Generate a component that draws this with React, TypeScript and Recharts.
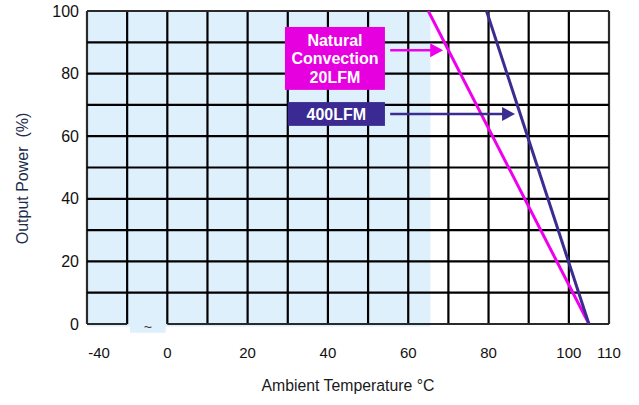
import React from 'react';
import {
  LineChart,
  Line,
  XAxis,
  YAxis,
  ReferenceArea,
  ReferenceLine,
  ReferenceDot,
} from 'recharts';

// ---- data ----
const xTickValues = [-17, 0, 20, 40, 60, 80, 100, 110];
const xTickLabels = ['-40', '0', '20', '40', '60', '80', '100', '110'];
const yTicks = [0, 20, 40, 60, 80, 100];
const gridX = [-20, -10, 0, 10, 20, 30, 40, 50, 60, 70, 80, 90, 100, 110];
const gridY = [10, 20, 30, 40, 50, 60, 70, 80, 90, 100];
const bottomSegments = [
  [-20, -10],
  [0, 110],
];
const naturalConvection = [
  { temp: 65, power: 100 },
  { temp: 105, power: 0 },
];
const lfm400 = [
  { temp: 79.5, power: 100 },
  { temp: 105, power: 0 },
];
const shadedRange = [-20, 65.5];
const breakRange = [-9.3, -0.4];

// annotation boxes / arrows (data coordinates)
const ncBox = { x1: 29.3, x2: 54.2, y1: 74.8, y2: 94.9 };
const ncLines = ['Natural', 'Convection', '20LFM'];
const lfmBox = { x1: 30, x2: 54.2, y1: 63.3, y2: 70.9 };
const lfmLines = ['400LFM'];
const ncArrow = { x1: 55.5, x2: 68.7, y: 87.5 };
const lfmArrow = { x1: 55.5, x2: 86.6, y: 67.1 };

const MAGENTA = '#ee00ee';
const MAGENTA_BOX = '#e600e0';
const BLUE = '#3a2d8f';
const BLUE_BOX = '#3a2a92';
const SHADE = '#dff0fd';
const FONT = '"Liberation Sans", Arial, Helvetica, sans-serif';

const boxShape = (lines: string[], color: string) => (props: any) => {
  const { x1, y1, x2, y2 } = props;
  const x = Math.min(x1, x2);
  const y = Math.min(y1, y2);
  const w = Math.abs(x2 - x1);
  const h = Math.abs(y2 - y1);
  const cx = x + w / 2;
  const cy = y + h / 2;
  const lh = 18.5;
  const startY = cy - ((lines.length - 1) * lh) / 2;
  return (
    <g>
      <rect x={x} y={y} width={w} height={h} fill={color} />
      <text
        textAnchor="middle"
        fontFamily={FONT}
        fontWeight="bold"
        fontSize={16}
        fill="#ffffff"
      >
        {lines.map((l, i) => (
          <tspan key={i} x={cx} y={startY + i * lh} dy="0.36em">
            {l}
          </tspan>
        ))}
      </text>
    </g>
  );
};

const arrowShape = (color: string) => (props: any) => {
  const { x1, y1, x2, y2 } = props;
  const head = 13;
  const half = 7;
  return (
    <g>
      <line x1={x1} y1={y1} x2={x2 - head + 1} y2={y2} stroke={color} strokeWidth={2.5} />
      <polygon
        points={`${x2},${y2} ${x2 - head},${y2 - half} ${x2 - head},${y2 + half}`}
        fill={color}
      />
    </g>
  );
};

export default function App() {
  return (
    <div style={{ position: 'absolute', left: 0, top: 0, background: '#fff' }}>
      <LineChart
        width={639}
        height={405}
        margin={{ top: 11, right: 30, bottom: 0, left: 0 }}
      >
        <XAxis
          type="number"
          dataKey="temp"
          domain={[-20, 110]}
          ticks={xTickValues}
          interval={0}
          allowDataOverflow
          tickFormatter={(v: number) => xTickLabels[xTickValues.indexOf(v)] ?? ''}
          tickLine={false}
          axisLine={false}
          tickSize={0}
          tickMargin={23}
          height={81}
          tick={{ fontFamily: FONT, fontSize: 15, fill: '#111' }}
          label={{
            value: 'Ambient Temperature °C',
            position: 'insideBottom',
            offset: 14,
            fontFamily: FONT,
            fontSize: 15.8,
            fill: '#1a1a1a',
          }}
        />
        <YAxis
          type="number"
          domain={[0, 100]}
          ticks={yTicks}
          interval={0}
          allowDataOverflow
          tickLine={false}
          axisLine={false}
          tickSize={0}
          tickMargin={8}
          width={87}
          tick={{ fontFamily: FONT, fontSize: 16, fill: '#111' }}
          label={{
            content: (p: any) => {
              const vb = p.viewBox || {};
              const x = vb.x + 22;
              const y = vb.y + vb.height / 2 + 11;
              return (
                <text
                  x={x}
                  y={y}
                  transform={`rotate(-90, ${x}, ${y})`}
                  textAnchor="middle"
                  dominantBaseline="central"
                  fontFamily={FONT}
                  fontSize={16}
                  fill="#1d2c4c"
                >
                  {'Output Power \u00a0(%)'}
                </text>
              );
            },
          }}
        />

        <ReferenceArea
          x1={shadedRange[0]}
          x2={shadedRange[1]}
          y1={0}
          y2={100}
          fill={SHADE}
          fillOpacity={1}
          stroke="none"
        />
        <ReferenceArea
          x1={shadedRange[0]}
          x2={shadedRange[1]}
          y1={-0.8}
          y2={0}
          fill={SHADE}
          fillOpacity={1}
          stroke="none"
          ifOverflow="visible"
        />
        <ReferenceArea
          x1={breakRange[0]}
          x2={breakRange[1]}
          y1={-2.8}
          y2={0}
          fill={SHADE}
          fillOpacity={1}
          stroke="none"
          ifOverflow="visible"
        />

        {gridX.map((x) => (
          <ReferenceLine
            key={`gx${x}`}
            x={x}
            stroke={x === -20 || x === 110 ? '#2a2a2a' : '#000'}
            strokeWidth={2.2}
          />
        ))}
        {gridY.map((y) => (
          <ReferenceLine
            key={`gy${y}`}
            y={y}
            stroke={y === 100 ? '#2a2a2a' : '#000'}
            strokeWidth={2.2}
          />
        ))}
        {bottomSegments.map((s, i) => (
          <ReferenceLine
            key={`bs${i}`}
            segment={[
              { x: s[0], y: 0 },
              { x: s[1], y: 0 },
            ]}
            stroke="#2a2a2a"
            strokeWidth={2.2}
          />
        ))}
        <ReferenceDot
          x={(breakRange[0] + breakRange[1]) / 2}
          y={0}
          r={0}
          stroke="none"
          fill="none"
          label={{ value: '~', position: 'bottom', offset: -2, fontFamily: FONT, fontSize: 14, fill: '#333' }}
        />

        <Line
          data={naturalConvection}
          dataKey="power"
          stroke={MAGENTA}
          strokeWidth={3}
          dot={false}
          activeDot={false}
          isAnimationActive={false}
        />
        <Line
          data={lfm400}
          dataKey="power"
          stroke={BLUE}
          strokeWidth={3}
          dot={false}
          activeDot={false}
          isAnimationActive={false}
        />

        <ReferenceLine
          segment={[
            { x: ncBox.x1, y: ncBox.y2 },
            { x: ncBox.x2, y: ncBox.y1 },
          ]}
          shape={boxShape(ncLines, MAGENTA_BOX)}
        />
        <ReferenceLine
          segment={[
            { x: lfmBox.x1, y: lfmBox.y2 },
            { x: lfmBox.x2, y: lfmBox.y1 },
          ]}
          shape={boxShape(lfmLines, BLUE_BOX)}
        />
        <ReferenceLine
          segment={[
            { x: ncArrow.x1, y: ncArrow.y },
            { x: ncArrow.x2, y: ncArrow.y },
          ]}
          shape={arrowShape(MAGENTA)}
        />
        <ReferenceLine
          segment={[
            { x: lfmArrow.x1, y: lfmArrow.y },
            { x: lfmArrow.x2, y: lfmArrow.y },
          ]}
          shape={arrowShape(BLUE)}
        />
      </LineChart>
    </div>
  );
}
